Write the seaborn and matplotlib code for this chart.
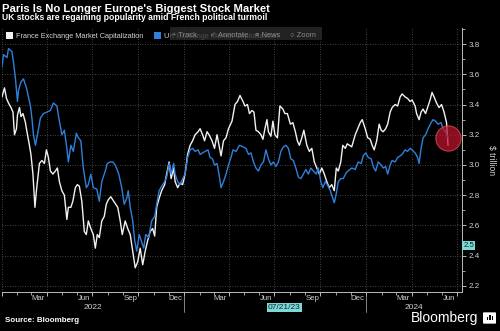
import numpy as np
import pandas as pd
import matplotlib
matplotlib.use("Agg")
import matplotlib.pyplot as plt
import matplotlib.dates as mdates
from matplotlib.patches import Rectangle, FancyBboxPatch
import seaborn as sns

# ---------------- data ----------------
start_date = "2022-01-01"

fr_days = [0, 5, 9, 13, 18, 22, 25, 29, 31, 35, 38, 42, 47, 50, 55, 58, 62, 66, 69, 71,
           75, 80, 85, 89, 93, 97, 102, 107, 111, 115, 120, 125, 130, 133, 138, 142, 147, 151, 155, 160,
           165, 169, 173, 178, 183, 187, 191, 195, 200, 205, 209, 213, 218, 224, 232, 237, 241, 247, 252, 257,
           262, 267, 272, 277, 282, 287, 292, 297, 302, 306, 310, 315, 320, 326, 330, 335, 339, 344, 347, 352,
           357, 362, 367, 372, 377, 382, 387, 393, 397, 402, 406, 411, 415, 421, 426, 431, 435, 439, 444, 449,
           454, 461, 467, 472, 477, 483, 487, 492, 496, 501, 505, 509, 514, 519, 523, 527, 531, 534, 539, 543,
           547, 552, 557, 563, 567, 572, 578, 583, 588, 592, 596, 601, 605, 611, 616, 621, 626, 631, 636, 641,
           646, 651, 656, 661, 666, 670, 674, 679, 683, 688, 692, 701, 708, 713, 718, 722, 728, 733, 738, 742,
           746, 751, 756, 760, 764, 769, 773, 778, 782, 788, 793, 798, 802, 808, 813, 818, 822, 828, 831, 836,
           840, 844, 849, 854, 858, 862, 866, 871, 876, 881, 886, 891, 894]
fr_values = [3.45, 3.51, 3.44, 3.41, 3.38, 3.35, 3.20, 3.24, 3.33, 3.38, 3.32, 3.34, 3.28, 3.22, 3.13, 3.07, 2.94, 2.72, 2.83, 2.89,
             3.01, 3.03, 3.01, 3.10, 3.05, 2.96, 2.94, 2.96, 2.98, 2.89, 2.83, 2.80, 2.64, 2.72, 2.72, 2.76, 2.85, 2.87, 2.86, 2.76,
             2.56, 2.54, 2.63, 2.58, 2.54, 2.45, 2.54, 2.52, 2.63, 2.66, 2.74, 2.77, 2.79, 2.76, 2.72, 2.63, 2.54, 2.63, 2.58, 2.54,
             2.43, 2.32, 2.36, 2.45, 2.34, 2.43, 2.50, 2.56, 2.58, 2.53, 2.72, 2.78, 2.83, 2.87, 2.94, 3.02, 2.91, 2.98, 2.89, 2.85,
             2.88, 2.87, 2.94, 3.07, 3.13, 3.16, 3.20, 3.22, 3.24, 3.20, 3.16, 3.22, 3.20, 3.16, 3.11, 3.20, 3.13, 3.06, 3.16, 3.18,
             3.24, 3.29, 3.40, 3.42, 3.46, 3.42, 3.39, 3.40, 3.34, 3.36, 3.35, 3.23, 3.22, 3.20, 3.17, 3.24, 3.30, 3.22, 3.19, 3.29,
             3.20, 3.18, 3.39, 3.37, 3.34, 3.34, 3.27, 3.28, 3.22, 3.16, 3.13, 3.18, 3.23, 3.13, 3.09, 3.11, 3.02, 2.98, 2.94, 2.98,
             2.94, 2.89, 2.85, 2.87, 2.83, 2.98, 2.96, 3.02, 3.13, 3.11, 3.14, 3.12, 3.20, 3.24, 3.28, 3.30, 3.24, 3.18, 3.17, 3.13,
             3.10, 3.16, 3.27, 3.23, 3.22, 3.24, 3.27, 3.35, 3.38, 3.40, 3.39, 3.45, 3.47, 3.45, 3.44, 3.42, 3.43, 3.39, 3.34, 3.30,
             3.35, 3.37, 3.34, 3.39, 3.43, 3.48, 3.45, 3.41, 3.38, 3.40, 3.35, 3.28, 3.13]

uk_days = [0, 3, 10, 13, 20, 23, 27, 31, 33, 38, 43, 49, 53, 57, 60, 63, 67, 71, 77, 83,
           90, 97, 103, 110, 115, 120, 125, 130, 133, 138, 143, 149, 153, 158, 163, 169, 173, 178, 183, 190,
           195, 200, 207, 211, 217, 222, 227, 234, 240, 245, 250, 253, 257, 262, 266, 270, 275, 279, 284, 288,
           294, 300, 306, 310, 315, 320, 326, 330, 335, 339, 344, 347, 352, 357, 362, 367, 372, 377, 382, 387,
           393, 397, 402, 407, 413, 417, 422, 426, 431, 435, 439, 444, 449, 454, 459, 463, 469, 476, 483, 489,
           494, 499, 504, 509, 514, 519, 524, 529, 534, 539, 544, 549, 554, 559, 564, 569, 574, 579, 584, 589,
           594, 599, 604, 609, 614, 619, 624, 630, 634, 639, 643, 648, 652, 658, 663, 666, 670, 674, 679, 684,
           690, 701, 708, 714, 720, 724, 729, 734, 740, 744, 749, 754, 760, 764, 769, 773, 778, 782, 788, 793,
           798, 802, 808, 813, 818, 822, 828, 833, 836, 840, 844, 849, 854, 860, 864, 869, 874, 880, 884, 889,
           894]
uk_values = [3.65, 3.73, 3.71, 3.77, 3.75, 3.68, 3.57, 3.42, 3.49, 3.55, 3.57, 3.51, 3.45, 3.39, 3.31, 3.20, 3.13, 3.20, 3.31, 3.34,
             3.35, 3.36, 3.41, 3.39, 3.29, 3.20, 3.23, 3.11, 3.02, 3.13, 3.09, 3.21, 3.18, 3.16, 2.98, 2.85, 2.87, 2.94, 2.85, 2.84,
             2.76, 2.89, 2.96, 3.01, 3.02, 3.02, 3.00, 2.94, 2.85, 2.74, 2.78, 2.83, 2.72, 2.63, 2.50, 2.43, 2.54, 2.50, 2.45, 2.54,
             2.52, 2.63, 2.66, 2.74, 2.83, 2.86, 2.89, 2.92, 3.01, 2.94, 3.01, 2.94, 2.89, 2.87, 2.91, 2.94, 3.05, 3.10, 3.11, 3.09,
             3.10, 3.07, 3.08, 3.09, 3.10, 3.05, 3.04, 3.00, 3.01, 2.94, 2.85, 2.89, 2.94, 3.00, 3.05, 3.10, 3.09, 3.13, 3.12, 3.11,
             3.07, 3.08, 3.02, 2.98, 2.96, 3.00, 3.02, 3.10, 3.04, 3.00, 3.02, 2.99, 3.02, 3.09, 3.12, 3.13, 3.11, 3.04, 3.03, 2.98,
             2.92, 2.91, 2.94, 2.97, 2.94, 2.98, 2.96, 2.94, 2.98, 2.89, 2.85, 2.89, 2.87, 2.83, 2.78, 2.75, 2.81, 2.89, 2.91, 2.91,
             2.95, 2.98, 2.97, 3.02, 3.01, 3.06, 3.08, 3.05, 3.04, 2.99, 2.96, 3.02, 3.00, 2.98, 2.99, 2.94, 3.00, 3.03, 3.02, 3.05,
             3.06, 3.07, 3.10, 3.09, 3.11, 3.10, 3.08, 3.05, 3.01, 3.11, 3.18, 3.20, 3.24, 3.28, 3.30, 3.29, 3.27, 3.28, 3.24, 3.22,
             3.18]

series_names = ["France Exchange Market Capitalization", "UK Exchange Market Capitalization"]
y_ticks = [2.2, 2.4, 2.6, 2.8, 3.0, 3.2, 3.4, 3.6, 3.8]
month_labels = ["Mar", "Jun", "Sep", "Dec"]
year_labels = [2022, 2024]
crosshair_date = "07/21/23"
crosshair_value = "2.5"

# ---------------- build table ----------------
t0 = pd.Timestamp(start_date)
df = pd.concat([
    pd.DataFrame({"date": t0 + pd.to_timedelta(fr_days, unit="D"), "value": fr_values, "series": series_names[0]}),
    pd.DataFrame({"date": t0 + pd.to_timedelta(uk_days, unit="D"), "value": uk_values, "series": series_names[1]}),
], ignore_index=True)

WHITE = "#f2f2f2"
BLUE = "#2f80d8"
GRID = "#5a5a5a"
TXT = "#d0d0d0"

sns.set_theme(style="dark")
plt.rcParams["font.family"] = ["Liberation Sans", "DejaVu Sans"]

W, H = 500, 331
fig = plt.figure(figsize=(W / 100, H / 100), dpi=100, facecolor="black")

def fx(px):
    return px / W

def fy(py):
    return 1 - py / H

ax_left, ax_right, ax_top, ax_bot = 2, 462, 28, 292
ax = fig.add_axes([fx(ax_left), fy(ax_bot), fx(ax_right - ax_left), (ax_bot - ax_top) / H])
ax.set_facecolor("black")

sns.lineplot(data=df, x="date", y="value", hue="series", hue_order=series_names,
             palette={series_names[0]: WHITE, series_names[1]: BLUE},
             legend=False, ax=ax, linewidth=1.0, estimator=None, zorder=3)

ax.set_xlim(pd.Timestamp("2022-01-01"), pd.Timestamp("2024-07-11"))
ax.set_ylim(2.160, 3.906)

ax.yaxis.tick_right()
ax.yaxis.set_label_position("right")
ax.set_yticks(y_ticks)
ax.set_yticklabels([f"{v:.1f}" for v in y_ticks])
ax.set_yticks(np.arange(2.3, 3.91, 0.2), minor=True)
ax.tick_params(axis="y", which="major", direction="out", length=3, width=0.7, color="#bbbbbb",
               labelcolor=TXT, labelsize=5.8, pad=1.5, right=True, left=False)
ax.tick_params(axis="y", which="minor", direction="out", length=2, width=0.6, color="#bbbbbb",
               right=True, left=False)
ax.set_ylabel("$ trillion", rotation=270, color=TXT, fontsize=6.2, labelpad=12)
ax.set_xlabel("")

ax.xaxis.set_major_locator(mdates.MonthLocator(bymonth=[1, 4, 7, 10]))
ax.xaxis.set_minor_locator(mdates.MonthLocator())
ax.xaxis.set_major_formatter(plt.NullFormatter())
ax.tick_params(axis="x", which="major", direction="out", length=3, width=0.7, color="#bbbbbb", bottom=True)
ax.tick_params(axis="x", which="minor", direction="out", length=2, width=0.6, color="#bbbbbb", bottom=True)

ax.grid(True, which="major", axis="both", color=GRID, linestyle=(0, (1, 2)), linewidth=0.6)
for s in ["top", "left"]:
    ax.spines[s].set_visible(False)
for s in ["bottom", "right"]:
    ax.spines[s].set_color("#bbbbbb")
    ax.spines[s].set_linewidth(0.7)

xt = ax.get_xaxis_transform()
mon_num = {"Mar": 3, "Jun": 6, "Sep": 9, "Dec": 12}
for yr in [2022, 2023, 2024]:
    for m in month_labels:
        d = pd.Timestamp(year=yr, month=mon_num[m], day=15)
        if d < pd.Timestamp("2024-07-01"):
            ax.text(d, -0.024, m, transform=xt, ha="center", va="center", color=TXT, fontsize=5.6)

year_pos = {2022: pd.Timestamp("2022-07-02"), 2024: pd.Timestamp("2024-04-06")}
for yr in year_labels:
    ax.text(year_pos[yr], -0.058, str(yr), transform=xt, ha="center", va="center", color=TXT, fontsize=6)
for d in [pd.Timestamp("2023-01-01"), pd.Timestamp("2024-01-01")]:
    ax.axvline(d, ymin=-0.076, ymax=-0.011, color="#999999", linewidth=0.6, clip_on=False)

# crosshair date label (covers the 2023 year label)
ax.text(pd.Timestamp("2023-07-21"), -0.058, crosshair_date, transform=xt, ha="center", va="center",
        color="#0a2a2a", fontsize=6, zorder=10,
        bbox=dict(boxstyle="square,pad=0.15", fc="#7fd8d8", ec="none"))
ax.text(1.003, 2.47, crosshair_value, transform=ax.get_yaxis_transform(), ha="left", va="center",
        color="#0a2a2a", fontsize=5.6, zorder=10,
        bbox=dict(boxstyle="square,pad=0.12", fc="#7fd8d8", ec="none"))

# red highlight circle at the latest UK value
last_uk = df[df["series"] == series_names[1]].iloc[-1]
ax.scatter([last_uk["date"]], [last_uk["value"]], s=330, color="#c0142c", alpha=0.72,
           edgecolors="#e0505e", linewidths=0.8, zorder=5)

# ---------------- header ----------------
fig.text(fx(2), fy(12), "Paris Is No Longer Europe's Biggest Stock Market", color="white",
         fontsize=8.1, fontweight="bold", va="baseline", ha="left",
         family=["Liberation Sans Narrow", "Liberation Sans", "DejaVu Sans"])
fig.text(fx(2), fy(20), "UK stocks are regaining popularity amid French political turmoil", color="white",
         fontsize=6.2, fontweight="bold", va="baseline", ha="left")

# legend
fig.patches.append(Rectangle((fx(6), fy(39)), fx(7), 7 / H, transform=fig.transFigure,
                             facecolor=WHITE, edgecolor="none"))
fig.text(fx(16), fy(38.5), series_names[0], color=TXT, fontsize=5.35, va="baseline", ha="left")
fig.patches.append(Rectangle((fx(154), fy(39)), fx(7), 7 / H, transform=fig.transFigure,
                             facecolor=BLUE, edgecolor="none"))
fig.text(fx(164), fy(38.5), series_names[1], color=TXT, fontsize=5.35, va="baseline", ha="left")

# toolbar overlay
fig.patches.append(Rectangle((fx(170), fy(40)), fx(152), 13 / H, transform=fig.transFigure,
                             facecolor="#2a2a2a", edgecolor="none", alpha=0.8, zorder=5))
for px, label in [(172, "+ Track"), (210, "\u2713 Annotate"), (255, "\u2261 News"), (290, "\u25cb Zoom")]:
    fig.text(fx(px), fy(37), label, color="#8a8a8a", fontsize=5.4, va="baseline", ha="left", zorder=6)

# ---------------- footer ----------------
fig.text(fx(5), fy(320), "Source: Bloomberg", color="white", fontsize=5.8, fontweight="bold",
         va="center", ha="left")
fig.text(fx(478), fy(318), "Bloomberg", color="white", fontsize=10, va="center", ha="right")
fig.patches.append(FancyBboxPatch((fx(484), fy(323)), fx(11), 10 / H, transform=fig.transFigure,
                                  boxstyle="round,pad=0.002", facecolor="white", edgecolor="none"))
for bx, bh in [(486.5, 3), (489, 5), (491.5, 4)]:
    fig.patches.append(Rectangle((fx(bx), fy(320)), fx(1.5), bh / H, transform=fig.transFigure,
                                 facecolor="black", edgecolor="none"))

fig.savefig("out.png", dpi=100, facecolor="black")
